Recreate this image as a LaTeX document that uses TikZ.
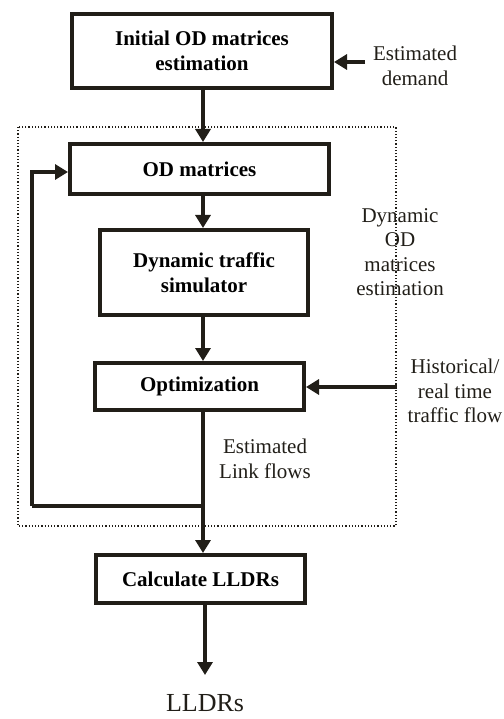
\documentclass[tikz,border=0pt]{standalone}
\usepackage{fontspec}
\setmainfont{Liberation Serif}
\usepackage{xcolor}
\usetikzlibrary{arrows.meta,positioning}
\definecolor{inkdark}{RGB}{33,30,24}

\begin{document}
\begin{tikzpicture}[x=1pt, y=1pt, font=\fontsize{21}{24.5}\selectfont]
    \tikzstyle{stage} = [rectangle, draw=inkdark, line width=4pt, align=center, font=\fontsize{21}{24.5}\selectfont\bfseries, inner sep=0pt]
    \tikzstyle{note} = [align=center, inner sep=1pt, text=inkdark]
    \tikzstyle{arrow} = [draw=inkdark, line width=4pt, -{Triangle[width=15pt,length=13pt]}]
    \tikzstyle{wire} = [draw=inkdark, line width=4pt]

    \useasboundingbox (0,0) rectangle (503,-719);

    % Initial estimate
    \node [stage, minimum width=260pt, minimum height=74pt] (init) at (202,-51) {Initial OD matrices\\estimation};
    \node [note] (demand) at (415,-66) {Estimated\\demand};

    % Dynamic OD estimation loop
    \draw [dotted, line width=1.2pt, inkdark] (18,-127) rectangle (396,-526);
    \node [stage, minimum width=259pt, minimum height=50pt] (od) at (199.5,-169) {OD matrices};
    \node [stage, minimum width=208pt, minimum height=85pt] (sim) at (204,-272.5) {Dynamic traffic\\simulator};
    \node [stage, minimum width=209pt, minimum height=47pt] (opt) at (199.5,-386.5) {Optimization};
    \node [note] (dynlabel) at (400,-252) {Dynamic\\OD\\matrices\\estimation};
    \node [note] (history) at (455,-391) {Historical/\\real time\\traffic flow};
    \node [note] (links) at (265,-459) {Estimated\\Link flows};

    % Output
    \node [stage, minimum width=209pt, minimum height=48pt] (calc) at (200.5,-579) {Calculate LLDRs};
    \node [note, font=\fontsize{26}{30}\selectfont] (lldrs) at (205,-703) {LLDRs};

    \coordinate (demandin) at (365,-62);
    \coordinate (historyin) at (397,-387);
    \coordinate (split) at (203,-506);
    \coordinate (loopcorner) at (32,-506);

    % Arrows
    \draw [arrow] (demandin) -- (demandin -| init.east);
    \draw [arrow] (init.south -| split) -- (od.north -| split);
    \draw [arrow] (od.south -| split) -- (sim.north -| split);
    \draw [arrow] (sim.south -| split) -- (opt.north -| split);
    \draw [arrow] (historyin) -- (historyin -| opt.east);
    \draw [arrow] (opt.south -| split) -- (calc.north -| split);
    \draw [wire] (split) -- (loopcorner);
    \draw [arrow] (loopcorner) |- ([yshift=-3pt]od.west);
    \draw [arrow] (calc.south -| 205,0) -- (205,-675);
\end{tikzpicture}
\end{document}
